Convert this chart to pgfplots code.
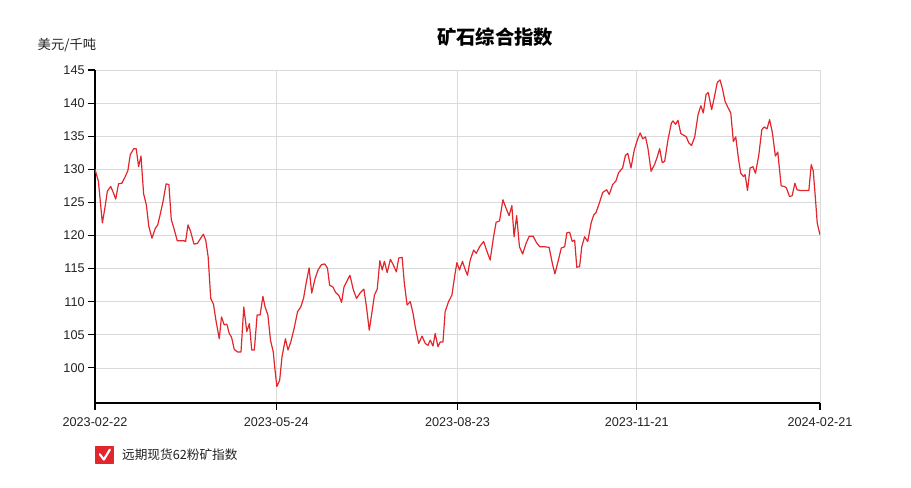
\documentclass[border=0pt]{standalone}
\usepackage{pgfplots}
\pgfplotsset{compat=1.18}
\usepackage{fontspec}
\setmainfont{Liberation Sans}
\newfontfamily\cjk{Noto Sans CJK SC}
\definecolor{linered}{HTML}{E3262C}
\definecolor{gridgray}{HTML}{DADADA}
\definecolor{txt}{HTML}{222222}

% day index from 2023-02-22 (0) to 2024-02-21 (364)
\pgfplotstableread{
d v
0 130.0
1.7 128.2
3.7 121.9
5.1 124.4
6.2 126.7
7.9 127.4
9.3 126.4
10.4 125.5
11.8 127.8
13.5 127.9
15.2 128.9
16.5 129.8
17.7 132.2
19.4 133.1
20.7 133.1
21.9 130.4
23.1 132.0
24.4 126.3
25.8 124.6
27.0 121.4
28.6 119.6
30.3 121.1
31.5 121.6
32.9 123.4
34.2 125.2
35.7 127.8
37.1 127.7
38.3 122.4
39.6 121.1
41.3 119.2
43.0 119.2
44.7 119.2
45.5 119.1
46.7 121.6
48.0 120.6
49.7 118.7
51.4 118.8
53.1 119.6
54.4 120.2
55.6 119.3
56.8 116.8
58.1 110.5
59.5 109.6
60.7 107.2
62.4 104.4
63.5 107.7
64.9 106.5
66.2 106.6
67.4 105.2
68.6 104.6
69.9 102.8
71.6 102.4
73.3 102.4
74.7 109.2
76.2 105.5
77.5 106.7
78.7 102.7
80.0 102.7
81.4 108.0
82.9 108.0
84.3 110.8
85.4 109.2
86.8 108.0
88.1 104.2
89.5 102.4
90.2 100.2
91.3 97.2
92.7 98.1
93.9 101.7
95.6 104.4
96.9 102.7
98.3 103.9
100.0 106.0
101.7 108.5
103.3 109.2
104.7 110.5
106.0 112.8
107.5 115.1
108.8 111.3
110.5 113.5
112.0 114.8
113.7 115.6
115.3 115.7
116.7 115.1
117.8 112.5
119.5 112.2
120.8 111.4
122.5 110.9
123.8 109.9
125.0 112.2
126.3 113.0
128.0 114.0
129.7 111.8
131.3 110.5
133.3 111.4
135.0 111.9
136.3 109.2
137.7 105.7
139.2 108.7
140.3 111.0
141.7 111.9
143.0 116.2
144.2 114.8
145.3 116.1
146.7 114.4
148.3 116.4
149.7 115.6
151.3 114.5
152.5 116.6
154.2 116.7
155.3 112.8
156.7 109.5
158.3 110.0
159.7 108.2
160.8 106.2
162.5 103.7
164.2 104.8
165.8 103.7
167.2 103.4
168.3 104.2
169.7 103.3
170.8 105.2
172.2 103.2
173.3 103.9
174.7 103.9
175.8 108.5
177.5 110.0
179.2 111.0
180.8 114.3
181.7 115.9
183.0 114.8
184.5 116.1
185.8 114.9
187.0 114.0
188.4 116.3
190.1 117.8
191.4 117.3
193.1 118.3
195.1 119.1
196.8 117.6
198.4 116.3
200.1 119.8
201.4 122.0
203.1 122.2
204.8 125.4
206.4 124.1
207.9 123.0
209.3 124.5
210.4 119.8
211.7 123.0
213.1 118.3
214.7 117.2
216.4 118.8
218.0 119.9
220.0 119.9
221.7 118.9
223.3 118.3
225.8 118.3
228.0 118.2
229.6 115.8
230.9 114.2
232.5 116.1
234.1 118.1
235.8 118.3
236.9 120.4
238.3 120.5
239.6 119.1
240.8 119.3
241.9 115.2
243.3 115.3
244.4 118.3
245.8 119.8
247.4 119.1
249.1 121.9
250.4 123.1
251.6 123.5
253.2 124.9
254.9 126.5
256.9 126.9
258.2 126.2
259.9 127.7
261.5 128.2
262.9 129.5
264.9 130.2
266.3 132.1
267.5 132.4
269.1 130.2
270.8 133.0
272.5 134.6
273.7 135.5
275.0 134.6
276.4 134.9
277.6 133.2
279.2 129.7
280.9 130.7
282.1 131.7
283.5 133.1
284.8 131.0
286.0 131.2
287.7 134.5
289.4 137.0
290.2 137.3
291.5 136.8
292.7 137.4
294.1 135.4
295.8 135.1
296.9 134.9
298.1 134.0
299.5 133.6
301.1 134.9
302.8 138.3
304.2 139.6
305.4 138.5
306.8 141.3
307.9 141.6
309.6 139.0
310.9 140.8
312.4 143.1
313.8 143.5
315.0 142.2
316.3 140.3
317.5 139.5
319.2 138.5
320.5 134.2
321.7 134.9
323.1 131.5
324.2 129.4
325.6 128.9
326.4 129.2
327.6 126.8
328.9 130.2
330.3 130.4
331.6 129.4
333.2 132.0
334.8 136.0
336.0 136.4
337.4 136.1
338.7 137.5
340.1 135.5
341.6 132.0
342.8 132.6
344.5 127.5
346.1 127.4
347.1 127.2
348.7 125.9
350.0 126.0
351.4 127.9
352.5 126.9
354.2 126.8
356.2 126.8
358.4 126.8
359.6 130.7
360.6 129.8
361.8 125.2
362.6 121.9
364.0 120.1
}\ore

\begin{document}
\begin{tikzpicture}
  \path[use as bounding box] (0,0) rectangle (683.25pt,366pt);
  \begin{axis}[
    at={(71.25pt,63.75pt)}, anchor=south west,
    scale only axis,
    width=543.75pt, height=249.75pt,
    xmin=0, xmax=364,
    ymin=94.7, ymax=145,
    axis x line*=bottom, axis y line*=left,
    axis line style={-, black, line width=1.8pt},
    xtick={0,91,182,272,364},
    xticklabels={2023-02-22,2023-05-24,2023-08-23,2023-11-21,2024-02-21},
    ytick={100,105,...,145},
    tick align=outside,
    major tick length=5.25pt,
    tick style={black, line width=0.8pt},
    grid=major,
    major grid style={gridgray, line width=0.6pt},
    ticklabel style={font=\fontsize{9.5}{11}\selectfont, text=txt},
    /pgf/number format/assume math mode=true,
    xticklabel style={yshift=-2pt},
    yticklabel style={xshift=1pt},
    legend style={draw=none, fill=none, at={(0,-0.156)}, anchor=west,
      font=\cjk\fontsize{9.5}{11}\selectfont, text=txt,
      inner sep=0pt, column sep=3.75pt, nodes={inner sep=2pt}},
    legend image code/.code={
      \fill[linered] (0pt,-6pt) rectangle (13.5pt,6pt);
      \draw[white, line width=1.6pt, line cap=round] (3pt,0.5pt) -- (6pt,-3.5pt) -- (10.5pt,4pt);
    },
  ]
  \addplot[linered, line width=0.9pt, line join=round, mark=none] table[x=d, y=v] {\ore};
  \addlegendentry{远期现货62粉矿指数}
  \end{axis}
  \node[font=\cjk\bfseries\fontsize{14.5}{16}\selectfont, text=black] at (371.25pt,338.25pt) {矿石综合指数};
  \node[font=\cjk\fontsize{10}{12}\selectfont, text=txt] at (50.25pt,332.25pt) {美元/千吨};
\end{tikzpicture}
\end{document}
